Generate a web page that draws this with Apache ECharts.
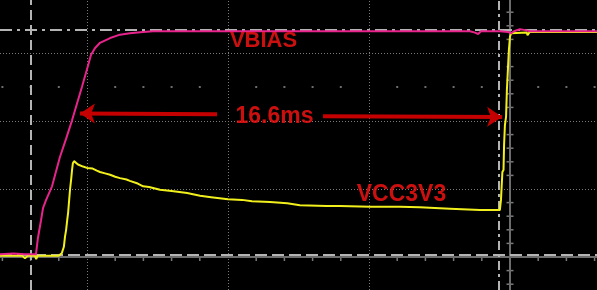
<!DOCTYPE html>
<html>
<head>
<meta charset="utf-8">
<script src="https://cdn.jsdelivr.net/npm/echarts@6/dist/echarts.min.js"></script>
<style>
html,body{margin:0;padding:0;background:#000;}
#chart{width:597px;height:290px;}
</style>
</head>
<body>
<div id="chart"></div>
<script>
// Time in ms (5 ms/div, trigger at 0), voltage in V (1 V/div)
const VBIAS = [[-18.09,0.04],[-17.6,0.05],[-17.2,0.04],[-16.9,0.04],[-16.81,0.04],[-16.74,0.28],[-16.63,0.54],[-16.56,0.72],[-16.45,0.84],[-16.24,1.04],[-15.96,1.47],[-15.74,1.74],[-15.53,2.01],[-15.18,2.50],[-14.96,2.82],[-14.86,2.97],[-14.72,3.07],[-14.54,3.15],[-14.18,3.22],[-13.83,3.27],[-13.48,3.29],[-13.01,3.31],[-12.66,3.32],[-10,3.32],[-5,3.32],[-1.42,3.32],[-1.24,3.30],[-1.13,3.28],[-1.03,3.32],[-0.35,3.32],[-0.07,3.31],[0.04,3.29],[0.14,3.32],[0.35,3.35],[0.50,3.34],[0.71,3.32],[3.09,3.32]];
const VCC3V3 = [[-18.09,0.02],[-17.3,0.02],[-17.2,-0.02],[-17.1,0.02],[-16.85,0.02],[-16.8,-0.03],[-16.75,0.02],[-16.0,0.02],[-15.96,0.03],[-15.89,0.06],[-15.82,0.15],[-15.78,0.30],[-15.74,0.40],[-15.70,0.55],[-15.67,0.65],[-15.63,0.85],[-15.60,1.00],[-15.56,1.15],[-15.53,1.28],[-15.50,1.38],[-15.46,1.41],[-15.39,1.40],[-15.32,1.36],[-15.25,1.37],[-15.14,1.33],[-15.00,1.31],[-14.80,1.30],[-14.65,1.27],[-14.54,1.25],[-14.36,1.23],[-14.18,1.21],[-14.00,1.18],[-13.83,1.16],[-13.6,1.14],[-13.48,1.12],[-13.2,1.08],[-13.01,1.04],[-12.8,1.03],[-12.41,0.99],[-12.0,0.97],[-11.45,0.94],[-11.2,0.92],[-10.99,0.90],[-10.6,0.88],[-10.0,0.85],[-9.5,0.84],[-9.15,0.82],[-8.51,0.81],[-7.9,0.79],[-7.45,0.76],[-6.5,0.75],[-6.03,0.75],[-4.96,0.74],[-3.90,0.74],[-3.2,0.73],[-2.13,0.71],[-1.06,0.69],[-0.36,0.69],[-0.32,0.84],[-0.28,0.85],[-0.27,1.25],[-0.23,1.28],[-0.21,1.65],[-0.18,1.94],[-0.14,2.06],[-0.11,2.46],[-0.07,2.79],[-0.04,3.04],[0,3.24],[0.04,3.29],[0.11,3.31],[0.6,3.30],[0.62,3.26],[0.7,3.31],[3.09,3.31]];
const GRID_X = [-15,-10,-5];          // ms, dotted division lines
const GRID_Y = [1,2,3];               // V, dotted division lines
const X_TICKS = [-18,-17,-16,-14,-13,-12,-11,-9,-8,-7,-6,-4,-3,-2,-1,1,2,3];
const Y_TICKS = [-0.4,-0.2,0.2,0.4,0.6,0.8,1.2,1.4,1.6,1.8,2.2,2.4,2.6,2.8,3.2,3.4,3.6];
const DOT_ROW_X = [-18,-17,-16,-14,-13,-12,-11,-9,-8,-7,-6,-4,-3,-2,-1,1,2,3];
const DOT_ROW_Y = 2.5;
const CURSOR_T = [-16.99,-0.39];     // ms
const CURSOR_V = [3.34,0.035];       // V
const LABELS = ['VBIAS','16.6ms','VCC3V3'];

const X_MIN = -510/28.2, X_MAX = 87/28.2;
const Y_MIN = -33/68, Y_MAX = 257/68;

const chart = echarts.init(document.getElementById('chart'), null, {renderer:'canvas'});
const gray = '#7a7a7a', cursorGray = '#b4b4b4';

const option = {
  backgroundColor:'#000',
  animation:false,
  grid:{left:0,right:0,top:0,bottom:0},
  xAxis:{type:'value',min:X_MIN,max:X_MAX,show:false},
  yAxis:{type:'value',min:Y_MIN,max:Y_MAX,show:false},
  series:[
    {
      type:'line', data:[], silent:true,
      markLine:{
        silent:true, symbol:'none', label:{show:false}, animation:false,
        data:[
          ...GRID_X.map(x=>({xAxis:x,lineStyle:{color:gray,width:1,type:[1,2]}})),
          ...GRID_Y.map(y=>({yAxis:y,lineStyle:{color:gray,width:1,type:[1,2]}})),
          {xAxis:0,lineStyle:{color:'#6c6c6c',width:2,type:'solid'}},
          {yAxis:0,lineStyle:{color:'#6c6c6c',width:2,type:'solid'}},
          {xAxis:CURSOR_T[0],lineStyle:{color:cursorGray,width:2,type:[10,5]}},
          {xAxis:CURSOR_T[1],lineStyle:{color:cursorGray,width:2,type:[9,4,3,4]}},
          {yAxis:CURSOR_V[0],lineStyle:{color:cursorGray,width:2,type:[12,5,3,5]}},
          {yAxis:CURSOR_V[1],lineStyle:{color:cursorGray,width:2,type:[12,5]}}
        ]
      }
    },
    {
      type:'custom', silent:true,
      data:X_TICKS.map(t=>[t,0]),
      renderItem:function(params,api){
        const p=api.coord([api.value(0),0]);
        return {type:'line',shape:{x1:p[0],y1:p[1],x2:p[0],y2:p[1]+4},style:{stroke:gray,lineWidth:1.5}};
      }
    },
    {
      type:'custom', silent:true,
      data:Y_TICKS.map(v=>[0,v]),
      renderItem:function(params,api){
        const p=api.coord([0,api.value(1)]);
        return {type:'line',shape:{x1:p[0]-3.5,y1:p[1],x2:p[0]+3.5,y2:p[1]},style:{stroke:gray,lineWidth:1.5}};
      }
    },
    {
      type:'scatter', silent:true, symbol:'rect', symbolSize:2,
      itemStyle:{color:'#888'},
      data:DOT_ROW_X.map(t=>[t,DOT_ROW_Y])
    },
    {
      name:'VCC3V3', type:'line', data:VCC3V3, showSymbol:false, silent:true,
      lineStyle:{color:'#f2f01c',width:2}, z:5
    },
    {
      name:'VBIAS', type:'line', data:VBIAS, showSymbol:false, silent:true,
      lineStyle:{color:'#e8248c',width:2}, z:6,
      markLine:{
        silent:true, animation:false, label:{show:false},
        lineStyle:{color:'#c40000',width:4,type:'solid'},
        data:[
          [{coord:[-15.25,2.11],symbol:'arrow',symbolSize:[15,15]},{coord:[-10.39,2.10],symbol:'none'}],
          [{coord:[-6.63,2.07],symbol:'none'},{coord:[-0.28,2.06],symbol:'arrow',symbolSize:[15,15]}]
        ]
      }
    },
    {
      type:'scatter', silent:true, symbolSize:1, z:10,
      itemStyle:{color:'rgba(0,0,0,0)'},
      label:{show:true,position:'inside',formatter:'{b}',color:'#ff1414',
        fontFamily:'Liberation Sans, Arial, sans-serif',fontWeight:'bold'},
      data:[
        {name:LABELS[0],value:[-8.74,3.18],label:{fontSize:22}},
        {name:LABELS[1],value:[-8.35,2.07],label:{fontSize:23}},
        {name:LABELS[2],value:[-3.85,0.92],label:{fontSize:23}}
      ]
    }
  ]
};
chart.setOption(option);
</script>
</body>
</html>
